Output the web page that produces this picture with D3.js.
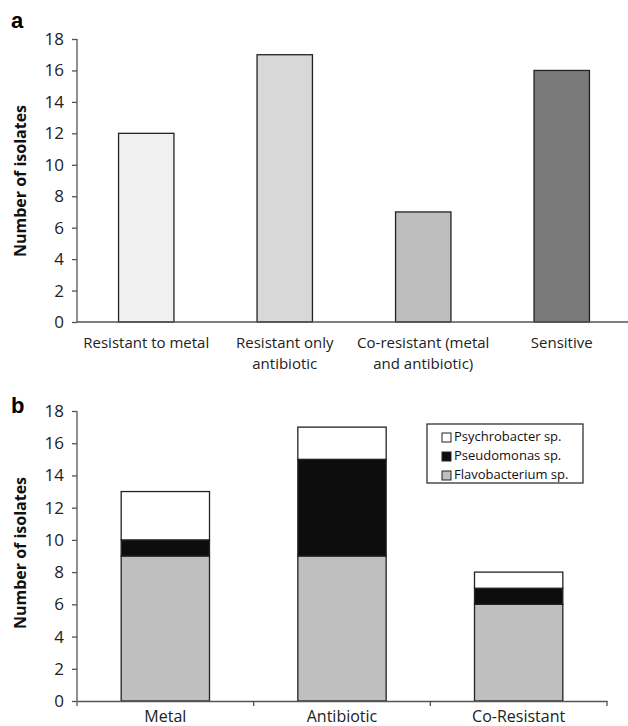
<!DOCTYPE html>
<html>
<head>
<meta charset="utf-8">
<script src="https://cdn.jsdelivr.net/npm/d3@7"></script>
<style>
  body { margin: 0; background: #fff; }
  svg { display: block; font-family: "Open Sans", sans-serif; }
  .axis path, .axis line { stroke: #555; stroke-width: 1.3; }
  .axis text { fill: #222; font-family: "Open Sans", sans-serif; }
  .axis.y text { font-size: 17px; }
  .axis.x text { font-size: 16px; }
</style>
</head>
<body>
<script>
// panel a
var catsA = ['Resistant to metal', 'Resistant only|antibiotic', 'Co-resistant (metal|and antibiotic)', 'Sensitive'];
var valsA = [12, 17, 7, 16];
var fillsA = ['#f0f0f0', '#d8d8d8', '#bebebe', '#7a7a7a'];

// panel b
var catsB = ['Metal', 'Antibiotic', 'Co-Resistant'];
var flavo = [9, 9, 6];
var pseudo = [1, 6, 1];
var psychro = [3, 2, 1];
var seriesB = ['Flavobacterium sp.', 'Pseudomonas sp.', 'Psychrobacter sp.'];
var fillsB = ['#bfbfbf', '#0d0d0d', '#ffffff'];

var yTicks = [0, 2, 4, 6, 8, 10, 12, 14, 16, 18];

var width = 628, height = 726;
var svg = d3.select('body').append('svg')
    .attr('width', width).attr('height', height);

function yAxis(g, y) {
  g.attr('class', 'axis y')
   .call(d3.axisLeft(y).tickValues(yTicks).tickSize(5).tickPadding(8).tickSizeOuter(0))
   .attr('font-family', null).attr('font-size', null);
  g.select('.domain').attr('d', 'M0,' + y.range()[0] + 'V' + y.range()[1]);
}

// ---------- panel a ----------
var xA = d3.scaleBand().domain(catsA).range([77, 631]);
var yA = d3.scaleLinear().domain([0, 18]).range([322, 39]);

svg.append('g').attr('transform', 'translate(77,0)').call(yAxis, yA);

svg.append('g').selectAll('rect')
   .data(valsA).enter().append('rect')
   .attr('x', function(d, i) { return xA(catsA[i]) + xA.bandwidth() * 0.3; })
   .attr('width', xA.bandwidth() * 0.4)
   .attr('y', function(d) { return yA(d); })
   .attr('height', function(d) { return yA(0) - yA(d); })
   .attr('fill', function(d, i) { return fillsA[i]; })
   .attr('stroke', '#222').attr('stroke-width', 1.3);

svg.append('line')
   .attr('x1', 77).attr('x2', 631).attr('y1', yA(0)).attr('y2', yA(0))
   .attr('stroke', '#555').attr('stroke-width', 1.3);

// two-line category labels, one text element per line
var linesA = [];
catsA.forEach(function(c) {
  c.split('|').forEach(function(t, k) { linesA.push({ cat: c, text: t, row: k }); });
});
svg.append('g').selectAll('text')
   .data(linesA).enter().append('text')
   .attr('text-anchor', 'middle')
   .attr('font-size', 15).attr('fill', '#222')
   .attr('x', function(d) { return xA(d.cat) + xA.bandwidth() / 2; })
   .attr('y', function(d) { return 348 + d.row * 20.5; })
   .text(function(d) { return d.text; });

svg.append('text').attr('transform', 'translate(26,181) rotate(-90)')
   .attr('text-anchor', 'middle').attr('font-size', 16).attr('font-weight', 'bold')
   .attr('fill', '#111').text('Number of isolates');

svg.append('text').attr('x', 11).attr('y', 28)
   .attr('font-family', '"Liberation Sans", Arial, sans-serif')
   .attr('font-size', 22).attr('font-weight', 'bold').text('a');

// ---------- panel b ----------
var xB = d3.scaleBand().domain(catsB).range([77, 607]);
var yB = d3.scaleLinear().domain([0, 18]).range([701, 411]);

svg.append('g').attr('transform', 'translate(77,0)').call(yAxis, yB);

var table = catsB.map(function(c, i) {
  return { cat: c, 'Flavobacterium sp.': flavo[i], 'Pseudomonas sp.': pseudo[i], 'Psychrobacter sp.': psychro[i] };
});
var stacked = d3.stack().keys(seriesB)(table);

svg.append('g').selectAll('g')
   .data(stacked).enter().append('g')
   .attr('fill', function(d, i) { return fillsB[i]; })
   .selectAll('rect')
   .data(function(d) { return d; }).enter().append('rect')
   .attr('x', function(d) { return xB(d.data.cat) + xB.bandwidth() * 0.25; })
   .attr('width', xB.bandwidth() * 0.5)
   .attr('y', function(d) { return yB(d[1]); })
   .attr('height', function(d) { return yB(d[0]) - yB(d[1]); })
   .attr('stroke', '#222').attr('stroke-width', 1.3);

var xAxisB = svg.append('g').attr('class', 'axis x')
   .attr('transform', 'translate(0,' + yB(0) + ')')
   .call(d3.axisBottom(xB).tickSize(0).tickPadding(10).tickSizeOuter(0))
   .attr('font-family', null).attr('font-size', null);
xAxisB.selectAll('.bound')
   .data(d3.range(catsB.length + 1)).enter().append('line')
   .attr('x1', function(i) { return 77 + i * xB.step(); })
   .attr('x2', function(i) { return 77 + i * xB.step(); })
   .attr('y1', 0).attr('y2', 5);

svg.append('text').attr('transform', 'translate(26,553) rotate(-90)')
   .attr('text-anchor', 'middle').attr('font-size', 16).attr('font-weight', 'bold')
   .attr('fill', '#111').text('Number of isolates');

svg.append('text').attr('x', 11).attr('y', 413)
   .attr('font-family', '"Liberation Sans", Arial, sans-serif')
   .attr('font-size', 22).attr('font-weight', 'bold').text('b');

// legend
var leg = svg.append('g').attr('transform', 'translate(427,424)');
leg.append('rect').attr('width', 156).attr('height', 59)
   .attr('fill', '#fff').attr('stroke', '#222').attr('stroke-width', 1.2);
var items = leg.selectAll('g.item')
   .data(seriesB.slice().reverse()).enter().append('g')
   .attr('transform', function(d, i) { return 'translate(15,' + (17 + i * 19) + ')'; });
items.append('rect').attr('x', 0).attr('y', -8).attr('width', 9).attr('height', 9)
   .attr('fill', function(d) { return fillsB[seriesB.indexOf(d)]; })
   .attr('stroke', '#222').attr('stroke-width', 1);
items.append('text').attr('x', 12).attr('y', 0)
   .attr('font-size', 13).attr('fill', '#111')
   .text(function(d) { return d; });
</script>
</body>
</html>
